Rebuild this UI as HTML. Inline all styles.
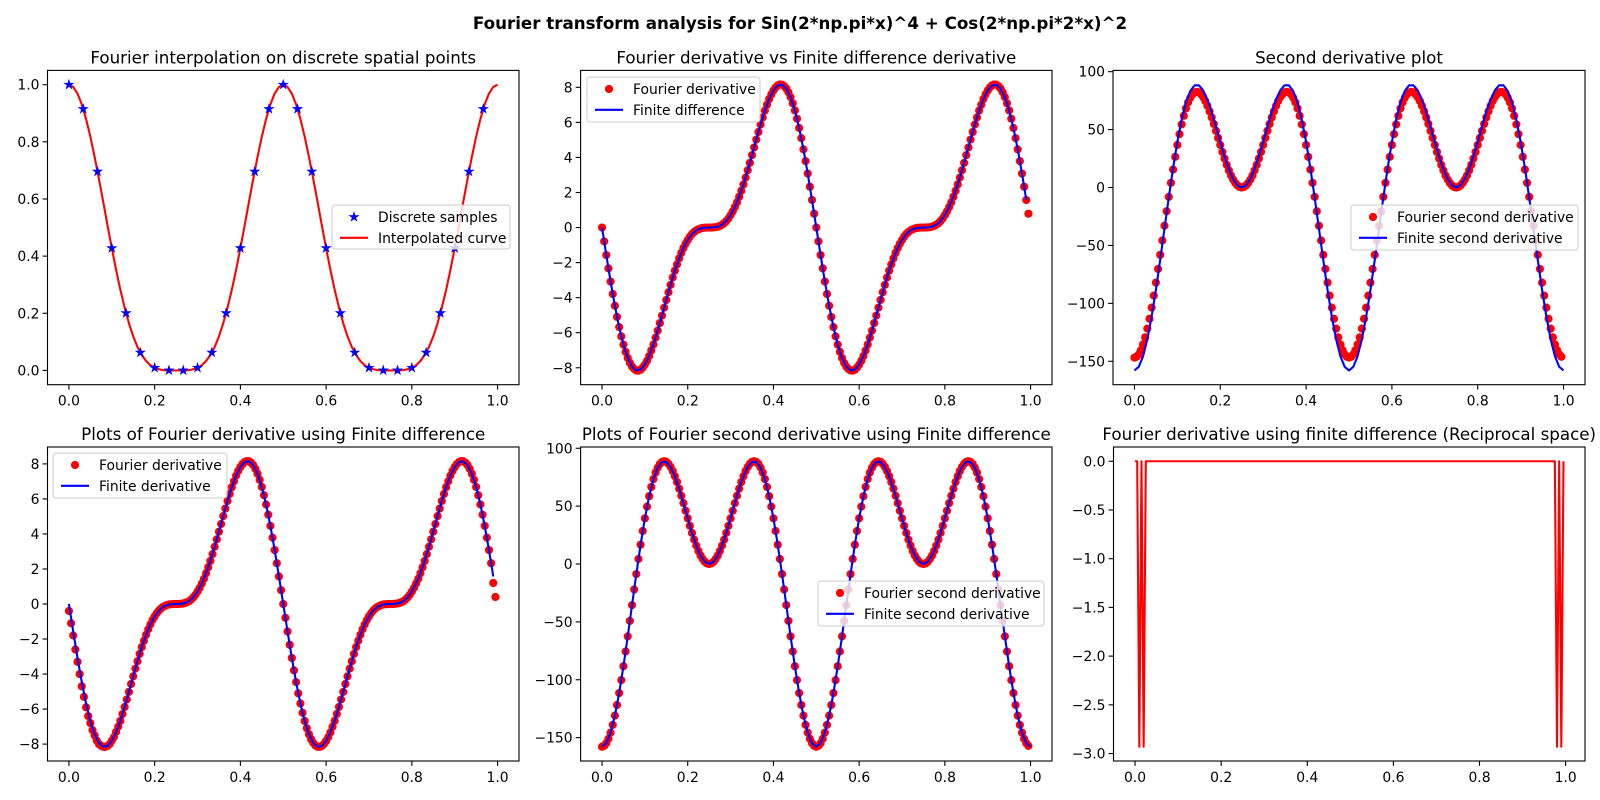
<!DOCTYPE html>
<html><head><meta charset="utf-8">
<style>
html,body{margin:0;padding:0;background:#fff;}
svg{display:block;font-family:"DejaVu Sans","Liberation Sans",sans-serif;}
</style></head>
<body>
<svg id="fig" xmlns="http://www.w3.org/2000/svg" width="1600" height="800" viewBox="0 0 1600 800">
<rect width="1600" height="800" fill="#fff"/>
<text x="800" y="29" text-anchor="middle" font-size="16.7" font-weight="bold">Fourier transform analysis for Sin(2*np.pi*x)^4 + Cos(2*np.pi*2*x)^2</text>
</svg>
<script>
// ---- data ----
const sampleValues = [1,0.915,0.696,0.428,0.2005,0.0625,0.0091,0.0001,0.0001,0.0091,0.0625,0.2005,0.428,0.696,0.915,1,0.915,0.696,0.428,0.2005,0.0625,0.0091,0.0001,0.0001,0.0091,0.0625,0.2005,0.428,0.696,0.915];
const curveValues = [1,0.992,0.969,0.931,0.880,0.818,0.747,0.670,0.590,0.508,0.428,0.352,0.282,0.220,0.165,0.119,0.082,0.054,0.033,0.018,0.009,0.004,0.001,0,0,0,
0,0,0.001,0.004,0.009,0.018,0.033,0.054,0.082,0.119,0.165,0.220,0.282,0.352,0.428,0.508,0.590,0.670,0.747,0.818,0.880,0.931,0.969,0.992,1,
0.992,0.969,0.931,0.880,0.818,0.747,0.670,0.590,0.508,0.428,0.352,0.282,0.220,0.165,0.119,0.082,0.054,0.033,0.018,0.009,0.004,0.001,0,0,0,
0,0,0.001,0.004,0.009,0.018,0.033,0.054,0.082,0.119,0.165,0.220,0.282,0.352,0.428,0.508,0.590,0.670,0.747,0.818,0.880,0.931,0.969,0.992,1];
const finiteDeriv = [0,-1.57,-3.08,-4.46,-5.68,-6.68,-7.44,-7.93,-8.15,-8.11,-7.82,-7.33,-6.67,-5.88,-5.02,-4.13,-3.27,-2.46,-1.76,-1.17,-0.71,-0.37,-0.16,-0.05,-0.01,0,
0.01,0.05,0.16,0.37,0.71,1.17,1.76,2.46,3.27,4.13,5.02,5.88,6.67,7.33,7.82,8.11,8.15,7.93,7.44,6.68,5.68,4.46,3.08,1.57,0,
-1.57,-3.08,-4.46,-5.68,-6.68,-7.44,-7.93,-8.15,-8.11,-7.82,-7.33,-6.67,-5.88,-5.02,-4.13,-3.27,-2.46,-1.76,-1.17,-0.71,-0.37,-0.16,-0.05,-0.01,0,
0.01,0.05,0.16,0.37,0.71,1.17,1.76,2.46,3.27,4.13,5.02,5.88,6.67,7.33,7.82,8.11,8.15,7.93,7.44,6.68,5.68,4.46,3.08,1.57];
const fourierDeriv = [0,-0.79,-1.57,-2.33,-3.08,-3.79,-4.46,-5.10,-5.68,-6.21,-6.68,-7.09,-7.44,-7.72,-7.93,-8.07,-8.15,-8.16,-8.11,-7.99,-7.82,-7.60,-7.33,-7.01,-6.67,-6.28,-5.88,-5.45,-5.02,-4.57,-4.13,-3.69,-3.27,-2.85,-2.46,-2.10,-1.76,-1.44,-1.17,-0.92,-0.71,-0.52,-0.37,-0.25,-0.16,-0.10,-0.05,-0.02,-0.01,0,
0,0,0.01,0.02,0.05,0.10,0.16,0.25,0.37,0.52,0.71,0.92,1.17,1.44,1.76,2.10,2.46,2.85,3.27,3.69,4.13,4.57,5.02,5.45,5.88,6.28,6.67,7.01,7.33,7.60,7.82,7.99,8.11,8.16,8.15,8.07,7.93,7.72,7.44,7.09,6.68,6.21,5.68,5.10,4.46,3.79,3.08,2.33,1.57,0.79,
0,-0.79,-1.57,-2.33,-3.08,-3.79,-4.46,-5.10,-5.68,-6.21,-6.68,-7.09,-7.44,-7.72,-7.93,-8.07,-8.15,-8.16,-8.11,-7.99,-7.82,-7.60,-7.33,-7.01,-6.67,-6.28,-5.88,-5.45,-5.02,-4.57,-4.13,-3.69,-3.27,-2.85,-2.46,-2.10,-1.76,-1.44,-1.17,-0.92,-0.71,-0.52,-0.37,-0.25,-0.16,-0.10,-0.05,-0.02,-0.01,0,
0,0,0.01,0.02,0.05,0.10,0.16,0.25,0.37,0.52,0.71,0.92,1.17,1.44,1.76,2.10,2.46,2.85,3.27,3.69,4.13,4.57,5.02,5.45,5.88,6.28,6.67,7.01,7.33,7.60,7.82,7.99,8.11,8.16,8.15,8.07,7.93,7.72,7.44,7.09,6.68,6.21,5.68,5.10,4.46,3.79,3.08,2.33,1.57,0.79];
const fourierDeriv2 = [-0.4,-1.1,-1.8,-2.6,-3.3,-4.0,-4.7,-5.3,-5.9,-6.4,-6.8,-7.2,-7.5,-7.8,-8.0,-8.1,-8.15,-8.16,-8.1,-8.0,-7.8,-7.6,-7.3,-7.0,-6.67,-6.28,-5.88,-5.45,-5.02,-4.57,-4.13,-3.69,-3.27,-2.85,-2.46,-2.10,-1.76,-1.44,-1.17,-0.92,-0.71,-0.52,-0.37,-0.25,-0.16,-0.10,-0.05,-0.02,-0.01,0,
0,0,0.01,0.02,0.05,0.10,0.16,0.25,0.37,0.52,0.71,0.92,1.17,1.44,1.76,2.10,2.46,2.85,3.27,3.69,4.13,4.57,5.02,5.45,5.88,6.28,6.67,7.01,7.33,7.60,7.82,7.99,8.11,8.16,8.15,8.07,7.93,7.72,7.44,7.09,6.68,6.21,5.68,5.10,4.46,3.79,3.08,2.33,1.57,0.79,
0,-0.79,-1.57,-2.33,-3.08,-3.79,-4.46,-5.10,-5.68,-6.21,-6.68,-7.09,-7.44,-7.72,-7.93,-8.07,-8.15,-8.16,-8.11,-7.99,-7.82,-7.60,-7.33,-7.01,-6.67,-6.28,-5.88,-5.45,-5.02,-4.57,-4.13,-3.69,-3.27,-2.85,-2.46,-2.10,-1.76,-1.44,-1.17,-0.92,-0.71,-0.52,-0.37,-0.25,-0.16,-0.10,-0.05,-0.02,-0.01,0,
0,0,0.01,0.02,0.05,0.10,0.16,0.25,0.37,0.52,0.71,0.92,1.17,1.44,1.76,2.10,2.46,2.85,3.27,3.69,4.13,4.57,5.02,5.45,5.88,6.28,6.67,7.01,7.33,7.60,7.82,7.99,8.11,8.16,8.15,8.07,7.93,7.72,7.44,7.09,6.68,6.21,5.68,5.10,4.46,3.79,3.08,2.33,1.2,0.4];
const finiteSecond = [-157.9,-154.8,-145.7,-131.0,-111.5,-88.3,-62.5,-35.5,-8.7,16.7,39.5,58.6,73.4,83.3,88.2,88.3,83.9,75.9,65.1,52.6,39.5,26.9,15.9,7.3,1.9,0,
1.9,7.3,15.9,26.9,39.5,52.6,65.1,75.9,83.9,88.3,88.2,83.3,73.4,58.6,39.5,16.7,-8.7,-35.5,-62.5,-88.3,-111.5,-131.0,-145.7,-154.8,-157.9,
-154.8,-145.7,-131.0,-111.5,-88.3,-62.5,-35.5,-8.7,16.7,39.5,58.6,73.4,83.3,88.2,88.3,83.9,75.9,65.1,52.6,39.5,26.9,15.9,7.3,1.9,0,
1.9,7.3,15.9,26.9,39.5,52.6,65.1,75.9,83.9,88.3,88.2,83.3,73.4,58.6,39.5,16.7,-8.7,-35.5,-62.5,-88.3,-111.5,-131.0,-145.7,-154.8,-157.9];
const fourierSecond = [-146.8,-146.1,-144.0,-140.4,-135.5,-129.3,-121.8,-113.3,-103.7,-93.3,-82.1,-70.3,-58.1,-45.7,-33.0,-20.5,-8.1,4.0,15.5,26.5,36.7,46.1,54.5,61.9,68.3,73.5,77.5,80.4,82.0,82.6,82.1,80.5,78.0,74.7,70.6,65.8,60.5,54.9,48.9,42.8,36.7,30.7,25.0,19.6,14.8,10.4,6.8,3.9,1.8,0.5,
0,0.5,1.8,3.9,6.8,10.4,14.8,19.6,25.0,30.7,36.7,42.8,48.9,54.9,60.5,65.8,70.6,74.7,78.0,80.5,82.1,82.6,82.0,80.4,77.5,73.5,68.3,61.9,54.5,46.1,36.7,26.5,15.5,4.0,-8.1,-20.5,-33.0,-45.7,-58.1,-70.3,-82.1,-93.3,-103.7,-113.3,-121.8,-129.3,-135.5,-140.4,-144.0,-146.1,
-146.8,-146.1,-144.0,-140.4,-135.5,-129.3,-121.8,-113.3,-103.7,-93.3,-82.1,-70.3,-58.1,-45.7,-33.0,-20.5,-8.1,4.0,15.5,26.5,36.7,46.1,54.5,61.9,68.3,73.5,77.5,80.4,82.0,82.6,82.1,80.5,78.0,74.7,70.6,65.8,60.5,54.9,48.9,42.8,36.7,30.7,25.0,19.6,14.8,10.4,6.8,3.9,1.8,0.5,
0,0.5,1.8,3.9,6.8,10.4,14.8,19.6,25.0,30.7,36.7,42.8,48.9,54.9,60.5,65.8,70.6,74.7,78.0,80.5,82.1,82.6,82.0,80.4,77.5,73.5,68.3,61.9,54.5,46.1,36.7,26.5,15.5,4.0,-8.1,-20.5,-33.0,-45.7,-58.1,-70.3,-82.1,-93.3,-103.7,-113.3,-121.8,-129.3,-135.5,-140.4,-144.0,-146.1];
const fourierSecond5 = [-157.9,-157.1,-154.8,-151.0,-145.7,-139.0,-131.0,-121.8,-111.5,-100.3,-88.3,-75.6,-62.5,-49.1,-35.5,-22.0,-8.7,4.3,16.7,28.5,39.5,49.6,58.6,66.6,73.4,79.0,83.3,86.4,88.2,88.8,88.3,86.6,83.9,80.3,75.9,70.8,65.1,59.0,52.6,46.0,39.5,33.0,26.9,21.1,15.9,11.2,7.3,4.2,1.9,0.5,
0,0.5,1.9,4.2,7.3,11.2,15.9,21.1,26.9,33.0,39.5,46.0,52.6,59.0,65.1,70.8,75.9,80.3,83.9,86.6,88.3,88.8,88.2,86.4,83.3,79.0,73.4,66.6,58.6,49.6,39.5,28.5,16.7,4.3,-8.7,-22.0,-35.5,-49.1,-62.5,-75.6,-88.3,-100.3,-111.5,-121.8,-131.0,-139.0,-145.7,-151.0,-154.8,-157.1,
-157.9,-157.1,-154.8,-151.0,-145.7,-139.0,-131.0,-121.8,-111.5,-100.3,-88.3,-75.6,-62.5,-49.1,-35.5,-22.0,-8.7,4.3,16.7,28.5,39.5,49.6,58.6,66.6,73.4,79.0,83.3,86.4,88.2,88.8,88.3,86.6,83.9,80.3,75.9,70.8,65.1,59.0,52.6,46.0,39.5,33.0,26.9,21.1,15.9,11.2,7.3,4.2,1.9,0.5,
0,0.5,1.9,4.2,7.3,11.2,15.9,21.1,26.9,33.0,39.5,46.0,52.6,59.0,65.1,70.8,75.9,80.3,83.9,86.6,88.3,88.8,88.2,86.4,83.3,79.0,73.4,66.6,58.6,49.6,39.5,28.5,16.7,4.3,-8.7,-22.0,-35.5,-49.1,-62.5,-75.6,-88.3,-100.3,-111.5,-121.8,-131.0,-139.0,-145.7,-151.0,-154.8,-157.1];
const reciprocalX = [0,0.005,0.01,0.015,0.02,0.025,0.975,0.98,0.985,0.99,0.995];
const reciprocalY = [0,0,-2.93,0,-2.93,0,0,-2.93,0,-2.93,0];
const xTicks = [0,0.2,0.4,0.6,0.8,1.0];
const xTickLabels = ["0.0","0.2","0.4","0.6","0.8","1.0"];
const yTicks1 = [0,0.2,0.4,0.6,0.8,1.0];
const yTickLabels1 = ["0.0","0.2","0.4","0.6","0.8","1.0"];
const yTicksD = [-8,-6,-4,-2,0,2,4,6,8];
const yTickLabelsD = ["−8","−6","−4","−2","0","2","4","6","8"];
const yTicksS = [-150,-100,-50,0,50,100];
const yTickLabelsS = ["−150","−100","−50","0","50","100"];
const yTicks6 = [-3,-2.5,-2,-1.5,-1,-0.5,0];
const yTickLabels6 = ["−3.0","−2.5","−2.0","−1.5","−1.0","−0.5","0.0"];

// ---- drawing ----
const NS = "http://www.w3.org/2000/svg";
const fig = document.getElementById('fig');
function mk(tag, attrs, parent){
  const e = document.createElementNS(NS, tag);
  for (const k in attrs) e.setAttribute(k, attrs[k]);
  (parent||fig).appendChild(e);
  return e;
}
function grid(n, step){ const a=[]; for(let i=0;i<n;i++) a.push(i*step); return a; }

function makeAxes(name, L, R, T, B, xlim, ylim, title, yt, ytl){
  const g = mk('g', {});
  
  
  const sx = v => L + (v - xlim[0]) / (xlim[1]-xlim[0]) * (R-L);
  const sy = v => B - (v - ylim[0]) / (ylim[1]-ylim[0]) * (B-T);
  const t = mk('text', {x:(L+R)/2, y:T-7, 'text-anchor':'middle', 'font-size':16.7}, g);
  
  
  t.textContent = title;
  const xa = mk('g', {}, g);
  
  
  xTicks.forEach((v,i)=>{
    const x = sx(v);
    mk('line', {x1:x, x2:x, y1:B, y2:B+4.9, stroke:'#000', 'stroke-width':1.1}, xa);
    const tl = mk('text', {x:x, y:B+21, 'text-anchor':'middle', 'font-size':13.9}, xa);
    
    
    tl.textContent = xTickLabels[i];
  });
  const ya = mk('g', {}, g);
  
  
  yt.forEach((v,i)=>{
    const y = sy(v);
    mk('line', {x1:L-4.9, x2:L, y1:y, y2:y, stroke:'#000', 'stroke-width':1.1}, ya);
    const tl = mk('text', {x:L-8, y:y+5, 'text-anchor':'end', 'font-size':13.9}, ya);
    
    
    tl.textContent = ytl[i];
  });
  const clipId = 'clip-' + name;
  const cp = mk('clipPath', {id:clipId}, g);
  mk('rect', {x:L, y:T, width:R-L, height:B-T}, cp);
  const plot = mk('g', {'clip-path':'url(#'+clipId+')'}, g);
  
  
  return {g, plot, sx, sy, L, R, T, B};
}
function frame(ax){
  const f = mk('rect', {x:ax.L, y:ax.T, width:ax.R-ax.L, height:ax.B-ax.T, fill:'none', stroke:'#000', 'stroke-width':1.1}, ax.g);
  
  
}
function line(ax, xs, ys, color, name){
  const d = xs.map((x,i)=> (i?'L':'M') + ax.sx(x).toFixed(2) + ' ' + ax.sy(ys[i]).toFixed(2)).join(' ');
  const p = mk('path', {d, fill:'none', stroke:color, 'stroke-width':2.08, 'stroke-linejoin':'round'}, ax.plot);
  
  
}
function dots(ax, xs, ys, name){
  const gg = mk('g', {fill:'#ff0000'}, ax.plot);
  
  
  xs.forEach((x,i)=>{
    const c = mk('circle', {cx:ax.sx(x), cy:ax.sy(ys[i]), r:4.1}, gg);
    
    
  });
}
function starPath(cx, cy, r){
  let d='';
  for(let i=0;i<10;i++){
    const rr = i%2? r*0.38 : r;
    const a = -Math.PI/2 + i*Math.PI/5;
    d += (i?'L':'M') + (cx+rr*Math.cos(a)).toFixed(2) + ' ' + (cy+rr*Math.sin(a)).toFixed(2);
  }
  return d+'Z';
}
function stars(ax, xs, ys, name){
  const gg = mk('g', {fill:'#0000ff', stroke:'#0000ff', 'stroke-width':0.8}, ax.plot);
  
  
  xs.forEach((x,i)=>{
    const s = mk('path', {d:starPath(ax.sx(x), ax.sy(ys[i]), 4.6)}, gg);
    
    
  });
}
function legend(ax, x, y, w, h, entries){
  const lg = mk('g', {}, ax.g);
  
  
  mk('rect', {x, y, width:w, height:h, rx:3, fill:'#fff', 'fill-opacity':0.8, stroke:'#cccccc', 'stroke-width':1}, lg);
  entries.forEach((e,i)=>{
    const cy = y + 12 + i*20.8;
    const eg = mk('g', {}, lg);
    
    
    const hx = x + 8, hw = 28;
    if (e.type==='line') mk('line', {x1:hx, x2:hx+hw, y1:cy, y2:cy, stroke:e.color, 'stroke-width':2.08}, eg);
    else if (e.type==='dot') mk('circle', {cx:hx+hw/2, cy, r:4.1, fill:'#ff0000'}, eg);
    else mk('path', {d:starPath(hx+hw/2, cy, 4.6), fill:'#0000ff', stroke:'#0000ff', 'stroke-width':0.8}, eg);
    const t = mk('text', {x:hx+hw+10, y:cy+5, 'font-size':13.9}, eg);
    t.textContent = e.label;
  });
}

const X101 = grid(101, 0.01);
const X100 = grid(100, 0.01);
const X200 = grid(200, 0.005);
const X30 = grid(30, 1/30);
const xl = [-0.05, 1.05];
const yl1 = [-0.05, 1.05];
const ylD = [-8.965, 8.965];
const ylS = [-170.2, 101.1];
const yl6 = [-3.0765, 0.1465];

// Plot 1
const a1 = makeAxes('interpolation-plot', 47.5, 519, 70.4, 384.7, xl, yl1, 'Fourier interpolation on discrete spatial points', yTicks1, yTickLabels1);
line(a1, X101, curveValues, '#ff0000', 'interpolated-curve');
stars(a1, X30, sampleValues, 'discrete-samples');
frame(a1);
legend(a1, 332, 205, 178, 44, [{type:'star', label:'Discrete samples'},{type:'line', color:'#ff0000', label:'Interpolated curve'}]);

// Plot 2
const a2 = makeAxes('derivative-comparison-plot', 580.6, 1052, 70.4, 384.7, xl, ylD, 'Fourier derivative vs Finite difference derivative', yTicksD, yTickLabelsD);
dots(a2, X200, fourierDeriv, 'fourier-derivative-points');
line(a2, X100, finiteDeriv, '#0000ff', 'finite-difference-line');
frame(a2);
legend(a2, 587, 77, 173, 45, [{type:'dot', label:'Fourier derivative'},{type:'line', color:'#0000ff', label:'Finite difference'}]);

// Plot 3
const a3 = makeAxes('second-derivative-plot', 1113, 1585, 70.4, 384.7, xl, ylS, 'Second derivative plot', yTicksS, yTickLabelsS);
dots(a3, X200, fourierSecond, 'fourier-second-derivative-points');
line(a3, X101, finiteSecond, '#0000ff', 'finite-second-derivative-line');
frame(a3);
legend(a3, 1351, 205, 227, 45, [{type:'dot', label:'Fourier second derivative'},{type:'line', color:'#0000ff', label:'Finite second derivative'}]);

// Plot 4
const a4 = makeAxes('fourier-derivative-fd-plot', 47.5, 519, 447, 761, xl, ylD, 'Plots of Fourier derivative using Finite difference', yTicksD, yTickLabelsD);
dots(a4, X200, fourierDeriv2, 'fourier-derivative-points');
line(a4, X100, finiteDeriv, '#0000ff', 'finite-derivative-line');
frame(a4);
legend(a4, 53, 453, 174, 45, [{type:'dot', label:'Fourier derivative'},{type:'line', color:'#0000ff', label:'Finite derivative'}]);

// Plot 5
const a5 = makeAxes('fourier-second-derivative-fd-plot', 580.6, 1052, 447, 761, xl, ylS, 'Plots of Fourier second derivative using Finite difference', yTicksS, yTickLabelsS);
dots(a5, X200, fourierSecond5, 'fourier-second-derivative-points');
line(a5, X101, finiteSecond, '#0000ff', 'finite-second-derivative-line');
frame(a5);
legend(a5, 818, 581, 226, 45, [{type:'dot', label:'Fourier second derivative'},{type:'line', color:'#0000ff', label:'Finite second derivative'}]);

// Plot 6
const a6 = makeAxes('reciprocal-space-plot', 1113.5, 1585, 447, 761, [-0.05, 1.045], yl6, 'Fourier derivative using finite difference (Reciprocal space)', yTicks6, yTickLabels6);
line(a6, reciprocalX, reciprocalY, '#ff0000', 'reciprocal-derivative-line');
frame(a6);
</script>
</body></html>
